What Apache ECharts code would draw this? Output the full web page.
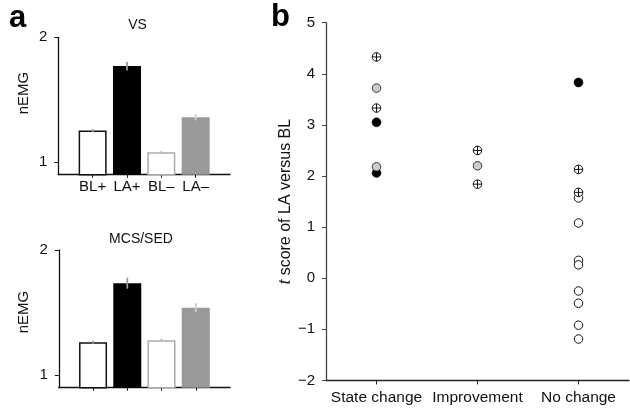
<!DOCTYPE html>
<html>
<head>
<meta charset="utf-8">
<script src="https://cdn.jsdelivr.net/npm/echarts@6/dist/echarts.min.js"></script>
<style>
html,body{margin:0;padding:0;background:#fff;}
#chart{width:630px;height:409px;}
</style>
</head>
<body>
<div id="chart"></div>
<script>
// ---- Data ----
const barCategories = ['BL+', 'LA+', 'BL–', 'LA–'];
const vsMeans = [1.253, 1.77, 1.08, 1.36];
const vsErrors = [0.012, 0.035, 0.01, 0.025];
const mcsMeans = [1.263, 1.735, 1.279, 1.539];
const mcsErrors = [0.012, 0.044, 0.012, 0.037];
const nemgTicks = [1, 2];

const outcomeCategories = ['State change', 'Improvement', 'No change'];
const blackPoints = [['State change', 3.05], ['State change', 2.06], ['No change', 3.83]];
const grayPoints = [['State change', 3.72], ['State change', 2.18], ['Improvement', 2.20]];
const openPoints = [['No change', 1.57], ['No change', 1.08], ['No change', 0.35], ['No change', 0.26],
                    ['No change', -0.25], ['No change', -0.49], ['No change', -0.92], ['No change', -1.19]];
const crossPoints = [['State change', 4.33], ['State change', 3.33], ['Improvement', 2.50],
                     ['Improvement', 1.84], ['No change', 2.13], ['No change', 1.68]];

// ---- Styles ----
const FONT = '"Liberation Sans", Arial, Helvetica, sans-serif';
const barStyles = [
  { color: '#ffffff', borderColor: '#111', borderWidth: 1.5 },
  { color: '#000000', borderColor: '#000', borderWidth: 0 },
  { color: '#ffffff', borderColor: '#aaaaaa', borderWidth: 1.5 },
  { color: '#999999', borderColor: '#999', borderWidth: 0 }
];
const errColors = ['#999', '#9a9a9a', '#bbb', '#cfcfcf'];

const chart = echarts.init(document.getElementById('chart'), null, { renderer: 'canvas' });

function barXAxis(gridIndex, showLabels) {
  return {
    type: 'value', gridIndex: gridIndex, min: 0, max: 5,
    splitLine: { show: false },
    axisLine: { show: true, onZero: false, lineStyle: { color: '#111', width: 1.3 } },
    axisTick: { show: true, customValues: [1, 2, 3, 4], length: 3, inside: false, lineStyle: { color: '#111' } },
    axisLabel: {
      show: showLabels, customValues: [1, 2, 3, 4], margin: 5,
      formatter: v => barCategories[Math.round(v) - 1] || '',
      color: '#111', fontSize: 15, fontFamily: FONT
    }
  };
}
function barYAxis(gridIndex) {
  return {
    type: 'value', gridIndex: gridIndex, min: 0.9, max: 2,
    splitLine: { show: false },
    axisLine: { show: true, onZero: false, lineStyle: { color: '#111', width: 1.3 } },
    axisTick: { show: true, customValues: nemgTicks, length: 4, lineStyle: { color: '#111' } },
    axisLabel: { customValues: nemgTicks, margin: 11, color: '#111', fontSize: 15, fontFamily: FONT }
  };
}
function barSeries(idx, means) {
  return {
    type: 'bar', xAxisIndex: idx, yAxisIndex: idx, barWidth: 28, clip: true,
    data: means.map((v, i) => ({ value: [i + 1, v], itemStyle: barStyles[i] })),
    silent: true, animation: false
  };
}
function errSeries(idx, means, errs) {
  return {
    type: 'custom', xAxisIndex: idx, yAxisIndex: idx, z: 5, animation: false, silent: true,
    data: means.map((v, i) => [i + 1, v - errs[i], v + errs[i]]),
    renderItem: function (params, api) {
      const lo = api.coord([api.value(0), api.value(1)]);
      const hi = api.coord([api.value(0), api.value(2)]);
      return {
        type: 'line',
        shape: { x1: lo[0], y1: lo[1], x2: hi[0], y2: hi[1] },
        style: { stroke: errColors[params.dataIndex], lineWidth: 1.8 }
      };
    }
  };
}

const option = {
  backgroundColor: '#fff',
  animation: false,
  textStyle: { fontFamily: FONT },
  grid: [
    { left: 58.3, top: 37.3, width: 171.7, height: 137.4 },
    { left: 58.8, top: 250, width: 171.2, height: 137.7 },
    { left: 326, top: 22.7, right: 1, bottom: 28.6 }
  ],
  xAxis: [
    barXAxis(0, true),
    barXAxis(1, false),
    {
      type: 'category', gridIndex: 2, data: outcomeCategories, boundaryGap: true,
      axisLine: { show: true, onZero: false, lineStyle: { color: '#222', width: 1.3 } },
      axisTick: { show: true, alignWithLabel: true, interval: 0, length: 4, lineStyle: { color: '#222' } },
      axisLabel: { interval: 0, margin: 9, color: '#111', fontSize: 15.5, fontFamily: FONT }
    }
  ],
  yAxis: [
    barYAxis(0),
    barYAxis(1),
    {
      type: 'value', gridIndex: 2, min: -2, max: 5, interval: 1,
      splitLine: { show: false },
      axisLine: { show: true, onZero: false, lineStyle: { color: '#444', width: 1.3 } },
      axisTick: { show: true, length: 4, lineStyle: { color: '#444' } },
      axisLabel: {
        margin: 11, color: '#111', fontSize: 15, fontFamily: FONT,
        formatter: v => (v < 0 ? '−' + Math.abs(v) : String(v))
      },
      name: '{i|t} score of LA versus BL',
      nameLocation: 'middle', nameGap: 30,
      nameTextStyle: {
        color: '#111', fontSize: 16, fontFamily: FONT,
        rich: { i: { fontStyle: 'italic', fontSize: 16, fontFamily: FONT, color: '#111' } }
      }
    }
  ],
  series: [
    barSeries(0, vsMeans),
    errSeries(0, vsMeans, vsErrors),
    barSeries(1, mcsMeans),
    errSeries(1, mcsMeans, mcsErrors),
    {
      type: 'scatter', xAxisIndex: 2, yAxisIndex: 2, symbol: 'circle', symbolSize: 9, z: 2,
      itemStyle: { color: '#000', borderColor: '#000', borderWidth: 0.5, opacity: 1 },
      data: blackPoints
    },
    {
      type: 'scatter', xAxisIndex: 2, yAxisIndex: 2, symbol: 'circle', symbolSize: 8.5, z: 3,
      itemStyle: { color: '#fff', borderColor: '#111', borderWidth: 1, opacity: 1 },
      data: openPoints
    },
    {
      type: 'scatter', xAxisIndex: 2, yAxisIndex: 2, symbol: 'circle', symbolSize: 8.5, z: 4,
      itemStyle: { color: '#cccccc', borderColor: '#333', borderWidth: 1, opacity: 1 },
      data: grayPoints
    },
    {
      type: 'scatter', xAxisIndex: 2, yAxisIndex: 2, symbol: 'circle', symbolSize: 8.5, z: 5,
      itemStyle: { color: '#fff', borderColor: '#111', borderWidth: 1, opacity: 1 },
      data: crossPoints
    },
    {
      type: 'scatter', xAxisIndex: 2, yAxisIndex: 2, z: 6,
      symbol: 'path://M5,0L5,10M0,5L10,5', symbolSize: 8.5, symbolKeepAspect: true,
      itemStyle: { color: 'none', borderColor: '#111', borderWidth: 1, opacity: 1 },
      data: crossPoints
    }
  ],
  graphic: [
    { type: 'text', left: 9, top: 3, style: { text: 'a', font: 'bold 31px ' + FONT, fill: '#000' } },
    { type: 'text', left: 271, top: 2, style: { text: 'b', font: 'bold 31px ' + FONT, fill: '#000' } },
    { type: 'text', x: 137.5, y: 25, style: { text: 'VS', font: '14px ' + FONT, fill: '#111', align: 'center', verticalAlign: 'middle' } },
    { type: 'text', x: 141, y: 239, style: { text: 'MCS/SED', font: '14px ' + FONT, fill: '#111', align: 'center', verticalAlign: 'middle' } },
    { type: 'text', x: 24, y: 93, rotation: Math.PI / 2, style: { text: 'nEMG', font: '15px ' + FONT, fill: '#111', align: 'center', verticalAlign: 'middle' } },
    { type: 'text', x: 24, y: 312, rotation: Math.PI / 2, style: { text: 'nEMG', font: '15px ' + FONT, fill: '#111', align: 'center', verticalAlign: 'middle' } }
  ]
};
chart.setOption(option);
</script>
</body>
</html>
